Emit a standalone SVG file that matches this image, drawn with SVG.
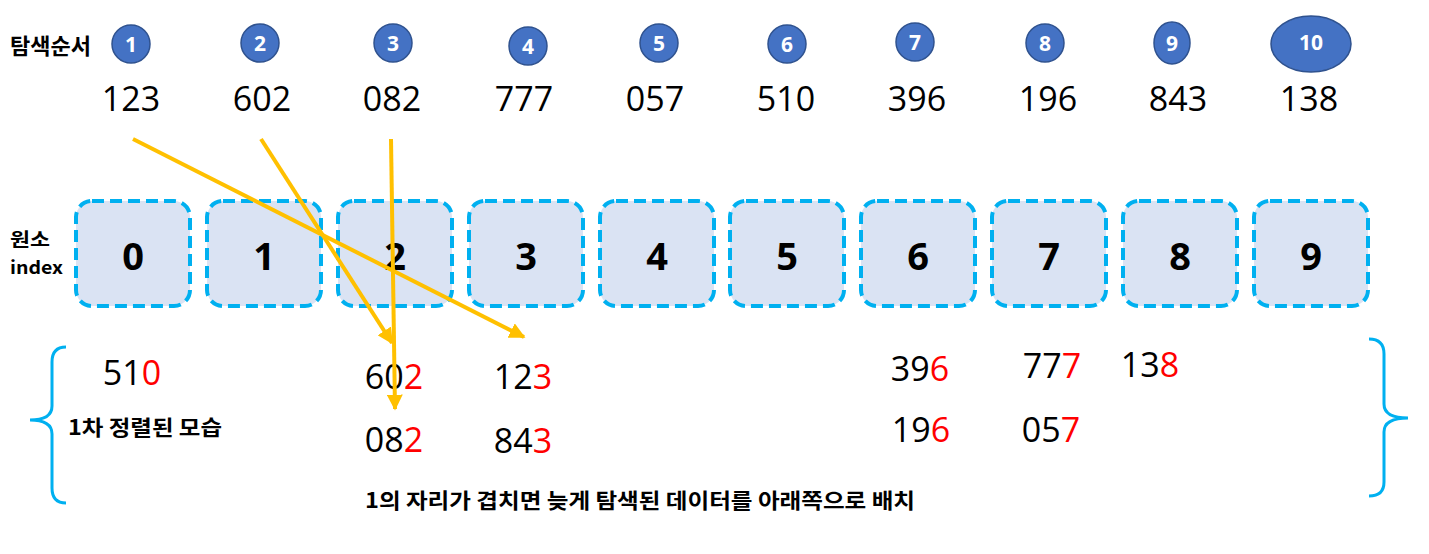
<svg xmlns="http://www.w3.org/2000/svg" width="1429" height="554" viewBox="0 0 1429 554">
<defs>
<style>
.ko{font-family:"Noto Sans CJK KR","Noto Sans",sans-serif;font-weight:bold;fill:#000}
.num{font-family:"Open Sans","Noto Sans",sans-serif;font-size:34px;fill:#000;text-anchor:middle}
.red{fill:#FF0000}
.badge{fill:#4472C4;stroke:#2F528F;stroke-width:1.5}
.bt{font-family:"Open Sans","Noto Sans",sans-serif;font-weight:bold;font-size:21px;fill:#fff;text-anchor:middle}
.box{fill:#DAE3F3;stroke:#00B0F0;stroke-width:4;stroke-dasharray:12 6}
.bd{font-family:"Open Sans","Noto Sans",sans-serif;font-weight:bold;font-size:38px;fill:#000;text-anchor:middle}
.arr{stroke:#FFC000;stroke-width:4;fill:none;marker-end:url(#ah)}
.brace{stroke:#00B0F0;stroke-width:3;fill:none}
</style>
<marker id="ah" viewBox="0 0 10 10" refX="9" refY="5" markerWidth="4" markerHeight="4" orient="auto" markerUnits="strokeWidth">
<path d="M0,0 L10,5 L0,10 z" fill="#FFC000"/>
</marker>
</defs>
<rect width="1429" height="554" fill="#fff"/>

<g id="labels">
<text class="ko" x="10" y="54" font-size="22" textLength="81" lengthAdjust="spacingAndGlyphs">탐색순서</text>
<text class="ko" x="10" y="246" font-size="18" textLength="40" lengthAdjust="spacingAndGlyphs">원소</text>
<text class="ko" x="10" y="274" font-size="18" textLength="53" lengthAdjust="spacingAndGlyphs">index</text>
<text class="ko" x="68" y="435" font-size="21" textLength="154" lengthAdjust="spacingAndGlyphs">1차 정렬된 모습</text>
<text class="ko" x="365" y="508" font-size="21" textLength="550" lengthAdjust="spacingAndGlyphs">1의 자리가 겹치면 늦게 탐색된 데이터를 아래쪽으로 배치</text>
</g>

<g id="order">
<g id="o1"><circle class="badge" cx="131" cy="44" r="19"/><text class="bt" x="131" y="51.5">1</text><text class="num" x="131" y="111">123</text></g>
<g id="o2"><circle class="badge" cx="260" cy="43" r="19"/><text class="bt" x="260" y="50.5">2</text><text class="num" x="262" y="111">602</text></g>
<g id="o3"><circle class="badge" cx="393" cy="43" r="19"/><text class="bt" x="393" y="50.5">3</text><text class="num" x="392" y="111">082</text></g>
<g id="o4"><circle class="badge" cx="528" cy="46" r="19"/><text class="bt" x="528" y="53.5">4</text><text class="num" x="524" y="111">777</text></g>
<g id="o5"><circle class="badge" cx="659" cy="43" r="19"/><text class="bt" x="659" y="50.5">5</text><text class="num" x="655" y="111">057</text></g>
<g id="o6"><circle class="badge" cx="787" cy="44" r="19"/><text class="bt" x="787" y="51.5">6</text><text class="num" x="786" y="111">510</text></g>
<g id="o7"><circle class="badge" cx="915" cy="42" r="19"/><text class="bt" x="915" y="49.5">7</text><text class="num" x="917" y="111">396</text></g>
<g id="o8"><circle class="badge" cx="1045" cy="43" r="19"/><text class="bt" x="1045" y="50.5">8</text><text class="num" x="1048" y="111">196</text></g>
<g id="o9"><ellipse class="badge" cx="1172" cy="43" rx="18" ry="21"/><text class="bt" x="1172" y="50.5">9</text><text class="num" x="1178" y="111">843</text></g>
<g id="o10"><ellipse class="badge" cx="1311" cy="44" rx="40" ry="28"/><text class="bt" x="1311" y="50" font-size="16">10</text><text class="num" x="1309" y="111">138</text></g>
</g>

<g id="buckets">
<g id="b0"><rect class="box" x="76" y="201" width="114" height="105" rx="16"/><text class="bd" x="133" y="270">0</text></g>
<g id="b1"><rect class="box" x="207" y="201" width="114" height="105" rx="16"/><text class="bd" x="264" y="270">1</text></g>
<g id="b2"><rect class="box" x="338" y="201" width="114" height="105" rx="16"/><text class="bd" x="395" y="270">2</text></g>
<g id="b3"><rect class="box" x="469" y="201" width="114" height="105" rx="16"/><text class="bd" x="526" y="270">3</text></g>
<g id="b4"><rect class="box" x="600" y="201" width="114" height="105" rx="16"/><text class="bd" x="657" y="270">4</text></g>
<g id="b5"><rect class="box" x="730" y="201" width="114" height="105" rx="16"/><text class="bd" x="787" y="270">5</text></g>
<g id="b6"><rect class="box" x="861" y="201" width="114" height="105" rx="16"/><text class="bd" x="918" y="270">6</text></g>
<g id="b7"><rect class="box" x="992" y="201" width="114" height="105" rx="16"/><text class="bd" x="1049" y="270">7</text></g>
<g id="b8"><rect class="box" x="1123" y="201" width="114" height="105" rx="16"/><text class="bd" x="1180" y="270">8</text></g>
<g id="b9"><rect class="box" x="1254" y="201" width="114" height="105" rx="16"/><text class="bd" x="1311" y="270">9</text></g>
</g>

<g id="sorted">
<text class="num" x="132" y="385">51<tspan class="red">0</tspan></text>
<text class="num" x="394" y="389">60<tspan class="red">2</tspan></text>
<text class="num" x="523" y="389">12<tspan class="red">3</tspan></text>
<text class="num" x="394" y="452">08<tspan class="red">2</tspan></text>
<text class="num" x="523" y="453">84<tspan class="red">3</tspan></text>
<text class="num" x="920" y="381">39<tspan class="red">6</tspan></text>
<text class="num" x="921" y="442">19<tspan class="red">6</tspan></text>
<text class="num" x="1052" y="378">77<tspan class="red">7</tspan></text>
<text class="num" x="1051" y="442">05<tspan class="red">7</tspan></text>
<text class="num" x="1150" y="377">13<tspan class="red">8</tspan></text>
</g>

<g id="connectors">
<line class="arr" x1="133" y1="139" x2="524" y2="337"/>
<line class="arr" x1="261" y1="139" x2="392" y2="343"/>
<line class="arr" x1="391" y1="139" x2="395" y2="409"/>
</g>

<g id="braces">
<path class="brace" d="M66,347 Q52,347 52,362 L52,406 Q52,420 30,420 Q52,420 52,434 L52,488 Q52,503 66,503"/>
<path class="brace" d="M1369,339 Q1384,339 1384,354 L1384,404 Q1384,418 1408,418 Q1384,418 1384,432 L1384,482 Q1384,496 1369,496"/>
</g>
</svg>
